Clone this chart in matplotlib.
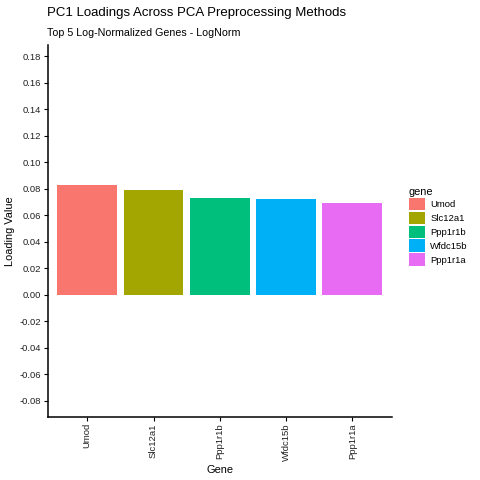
import numpy as np
import matplotlib.pyplot as plt
from matplotlib.patches import Patch

plt.rcParams['font.family'] = ['Liberation Sans', 'DejaVu Sans']

genes = ["Umod", "Slc12a1", "Ppp1r1b", "Wfdc15b", "Ppp1r1a"]
loadings = [0.0824, 0.0786, 0.0726, 0.0718, 0.0690]
colors = ["#F8766D", "#A3A500", "#00BF7D", "#00B0F6", "#E76BF3"]
yticks = np.round(np.arange(-0.08, 0.181, 0.02), 2)

fig = plt.figure(figsize=(4.8, 4.8), dpi=100)
ax = fig.add_axes([47.5 / 480, 63 / 480, (392 - 47.5) / 480, (417 - 45) / 480])

x = np.arange(1, len(genes) + 1)
ax.bar(x, loadings, width=0.9, color=colors)

ax.set_xlim(0.4, len(genes) + 0.6)
ax.set_ylim(-0.0924, 0.1884)
ax.set_xticks(x)
ax.set_xticklabels(genes, rotation=90, fontsize=6.8, color="#222222")
ax.set_yticks(yticks)
ax.set_yticklabels([f"{v:.2f}" for v in yticks], fontsize=6.8, color="#222222")
ax.tick_params(length=3, width=0.8, pad=1.5)

for side in ["top", "right"]:
    ax.spines[side].set_visible(False)
for side in ["left", "bottom"]:
    ax.spines[side].set_linewidth(1.1)

ax.set_ylabel("Loading Value", fontsize=7.9, labelpad=3.5)
ax.set_xlabel("Gene", fontsize=7.9, labelpad=3)

fig.text(47 / 480, 1 - 13 / 480, "PC1 Loadings Across PCA Preprocessing Methods",
         fontsize=9.5, va="center", ha="left")
fig.text(47 / 480, 1 - 33 / 480, "Top 5 Log-Normalized Genes - LogNorm",
         fontsize=7.7, va="center", ha="left")

handles = [Patch(facecolor=c, edgecolor="none") for c in colors]
leg = fig.legend(handles, genes, title="gene", loc="upper left",
                 bbox_to_anchor=(402 / 480, 1 - 180 / 480), frameon=False,
                 fontsize=6.8, title_fontsize=7.9, handlelength=1.7, handleheight=1.7,
                 labelspacing=0.12, handletextpad=0.6, borderpad=0.2)
leg._legend_box.align = "left"

fig.savefig("out.png", dpi=100)
